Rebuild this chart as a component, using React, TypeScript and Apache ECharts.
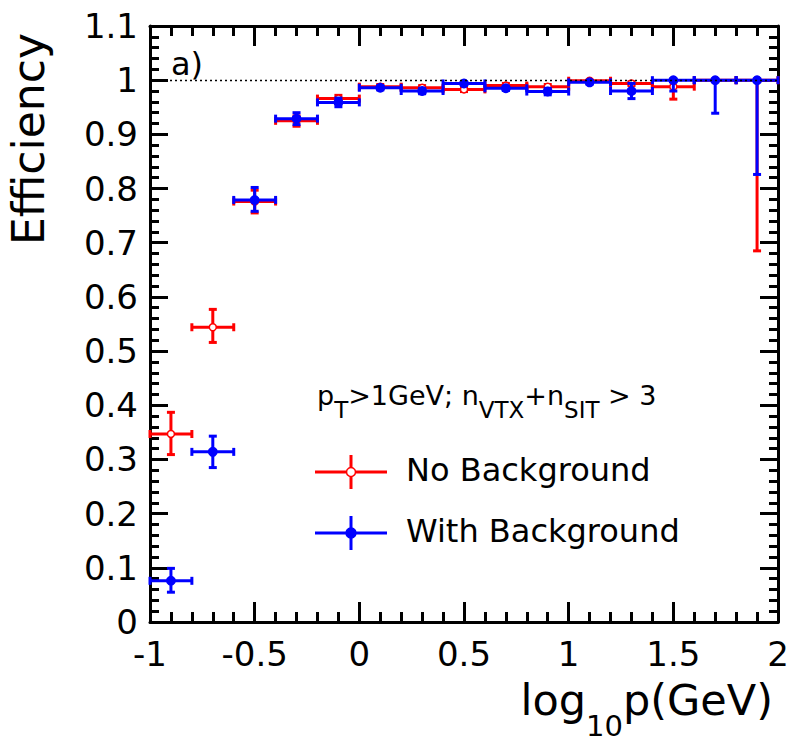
import React, { useEffect, useRef } from "react";
import * as echarts from "echarts";

// ---- data ----
const binCenters = [-0.9, -0.7, -0.5, -0.3, -0.1, 0.1, 0.3, 0.5, 0.7, 0.9, 1.1, 1.3, 1.5, 1.7, 1.9];
const binHalfWidth = 0.1;

const effNoBkg = [0.347, 0.544, 0.776, 0.925, 0.966, 0.988, 0.986, 0.983, 0.990, 0.988, 0.999, 0.994, 0.988, 1.0, 1.0];
const effNoBkgLow = [0.309, 0.516, 0.755, 0.915, 0.960, 0.984, 0.982, 0.979, 0.986, 0.984, 0.996, 0.990, 0.965, 1.0, 0.685];
const effNoBkgHigh = [0.387, 0.577, 0.797, 0.934, 0.972, 0.992, 0.990, 0.987, 0.994, 0.992, 1.0, 0.997, 0.998, 1.0, 1.0];

const effWithBkg = [0.076, 0.314, 0.779, 0.929, 0.959, 0.986, 0.980, 0.994, 0.985, 0.979, 0.996, 0.980, 1.0, 1.0, 1.0];
const effWithBkgLow = [0.055, 0.285, 0.758, 0.918, 0.951, 0.982, 0.975, 0.991, 0.981, 0.973, 0.993, 0.966, 0.980, 0.939, 0.826];
const effWithBkgHigh = [0.099, 0.343, 0.802, 0.940, 0.967, 0.990, 0.985, 0.997, 0.989, 0.985, 0.999, 0.994, 1.0, 1.0, 1.0];

const xRange = [-1, 2];
const xStep = 0.5;
const yRange = [0, 1.1];
const yStep = 0.1;
const referenceLevel = 1;

const seriesNames = ["No Background", "With Background"];
// text pieces: [text, isSubscript]
const cutPieces: [string, boolean][] = [
  ["p", false], ["T", true], [">1GeV; n", false], ["VTX", true], ["+n", false], ["SIT", true], [" > 3", false],
];
const xTitlePieces: [string, boolean][] = [["log", false], ["10", true], ["p(GeV)", false]];
const yTitle = "Efficiency";
const panelLabel = "a)";

const FONT = "DejaVu Sans";
const RED = "#ff0000";
const BLUE = "#0000ff";

function textWidth(t: string, size: number) {
  const c = document.createElement("canvas").getContext("2d");
  if (!c) return t.length * size * 0.6;
  c.font = `${size}px "${FONT}"`;
  return c.measureText(t).width;
}

function scriptLine(
  pieces: [string, boolean][],
  anchorX: number,
  baseline: number,
  mainSize: number,
  subSize: number,
  subDrop: number,
  align: "left" | "right"
) {
  const widths = pieces.map(([t, s]) => textWidth(t, s ? subSize : mainSize));
  const total = widths.reduce((a, b) => a + b, 0);
  let x = align === "left" ? anchorX : anchorX - total;
  return pieces.map(([t, s], i) => {
    const size = s ? subSize : mainSize;
    const base = baseline + (s ? subDrop : 0);
    const el = {
      type: "text",
      x,
      y: base - 0.346 * size,
      style: { text: t, fill: "#000", font: `${size}px "${FONT}"`, textAlign: "left", textVerticalAlign: "middle" },
    };
    x += widths[i];
    return el;
  });
}

function errorSeries(name: string, color: string, eff: number[], lo: number[], hi: number[], open: boolean, z: number) {
  const data = binCenters.map((x, i) => [x, eff[i], lo[i], hi[i]]);
  return {
    type: "custom",
    name,
    z,
    data,
    encode: { x: 0, y: 1 },
    renderItem: (params: any, api: any) => {
      const x = api.value(0);
      const y = api.value(1);
      const l = api.value(2);
      const h = api.value(3);
      const pL = api.coord([x - binHalfWidth, y]);
      const pR = api.coord([x + binHalfWidth, y]);
      const pC = api.coord([x, y]);
      const pLo = api.coord([x, l]);
      const pHi = api.coord([x, h]);
      const cap = 4;
      const ls = { stroke: color, lineWidth: 3 };
      const children: any[] = [
        { type: "line", shape: { x1: pL[0], y1: pL[1], x2: pR[0], y2: pR[1] }, style: ls },
        { type: "line", shape: { x1: pLo[0], y1: pLo[1], x2: pHi[0], y2: pHi[1] }, style: ls },
        { type: "line", shape: { x1: pL[0], y1: pL[1] - cap, x2: pL[0], y2: pL[1] + cap }, style: ls },
        { type: "line", shape: { x1: pR[0], y1: pR[1] - cap, x2: pR[0], y2: pR[1] + cap }, style: ls },
        { type: "line", shape: { x1: pLo[0] - cap, y1: pLo[1], x2: pLo[0] + cap, y2: pLo[1] }, style: ls },
        { type: "line", shape: { x1: pHi[0] - cap, y1: pHi[1], x2: pHi[0] + cap, y2: pHi[1] }, style: ls },
        {
          type: "circle",
          shape: { cx: pC[0], cy: pC[1], r: open ? 3.5 : 4.2 },
          style: { fill: open ? "#ffffff" : color, stroke: color, lineWidth: 1.5 },
        },
      ];
      return { type: "group", children };
    },
  };
}

export default function App() {
  const ref = useRef<HTMLDivElement>(null);
  useEffect(() => {
    if (!ref.current) return;
    const chart = echarts.init(ref.current, null, { renderer: "svg" });

    const axisLine = { show: true, onZero: false, lineStyle: { color: "#000", width: 3 } };
    const tickStyle = { color: "#000", width: 3 };

    const legendItems = [
      { name: seriesNames[0], color: RED, open: true, y: 472 },
      { name: seriesNames[1], color: BLUE, open: false, y: 533 },
    ];
    const legendGraphics: any[] = [];
    legendItems.forEach((it) => {
      legendGraphics.push(
        { type: "line", shape: { x1: 315, y1: it.y, x2: 387, y2: it.y }, style: { stroke: it.color, lineWidth: 3 } },
        { type: "line", shape: { x1: 351, y1: it.y - 17, x2: 351, y2: it.y + 17 }, style: { stroke: it.color, lineWidth: 3 } },
        {
          type: "circle",
          shape: { cx: 351, cy: it.y, r: it.open ? 4.5 : 5 },
          style: { fill: it.open ? "#fff" : it.color, stroke: it.color, lineWidth: 1.5 },
        },
        {
          type: "text",
          x: 406,
          y: it.y - 2,
          style: { text: it.name, fill: "#000", font: `32px "${FONT}"`, textAlign: "left", textVerticalAlign: "middle" },
        }
      );
    });

    const xTitleGraphics = scriptLine(xTitlePieces, 773, 715, 43, 29, 21, "right");
    const cutGraphics = scriptLine(cutPieces, 317, 405, 27, 23, 13, "left");

    chart.setOption({
      animation: false,
      backgroundColor: "#ffffff",
      textStyle: { fontFamily: FONT },
      grid: { left: 150, top: 26, right: 10, bottom: 121, containLabel: false, outerBoundsMode: "none" },
      xAxis: [
        {
          type: "value",
          position: "bottom",
          min: xRange[0],
          max: xRange[1],
          interval: xStep,
          axisLine,
          axisTick: { show: true, inside: true, length: 20, lineStyle: tickStyle },
          minorTick: { show: true, splitNumber: 5, length: 10, lineStyle: tickStyle },
          splitLine: { show: false },
          axisLabel: { fontSize: 34, fontFamily: FONT, color: "#000", margin: 15, showMinLabel: true, showMaxLabel: true },
        },
        {
          type: "value",
          position: "top",
          min: xRange[0],
          max: xRange[1],
          interval: xStep,
          axisLine,
          axisTick: { show: true, inside: true, length: 20, lineStyle: tickStyle },
          minorTick: { show: true, splitNumber: 5, length: 10, lineStyle: tickStyle },
          splitLine: { show: false },
          axisLabel: { show: false },
        },
      ],
      yAxis: [
        {
          type: "value",
          position: "left",
          min: yRange[0],
          max: yRange[1],
          interval: yStep,
          name: yTitle,
          nameLocation: "end",
          nameGap: -219,
          nameRotate: 90,
          nameMoveOverlap: false,
          nameTextStyle: {
            fontSize: 44,
            fontFamily: FONT,
            color: "#000",
            align: "left",
            verticalAlign: "bottom",
            padding: [0, 0, 100, 0],
          },
          axisLine,
          axisTick: { show: true, inside: true, length: 18, lineStyle: tickStyle },
          minorTick: { show: true, splitNumber: 5, length: 9, lineStyle: tickStyle },
          splitLine: { show: false },
          axisLabel: { fontSize: 34, fontFamily: FONT, color: "#000", margin: 12, showMinLabel: true, showMaxLabel: true },
        },
        {
          type: "value",
          position: "right",
          min: yRange[0],
          max: yRange[1],
          interval: yStep,
          axisLine,
          axisTick: { show: true, inside: true, length: 18, lineStyle: tickStyle },
          minorTick: { show: true, splitNumber: 5, length: 9, lineStyle: tickStyle },
          splitLine: { show: false },
          axisLabel: { show: false },
        },
      ],
      series: [
        {
          type: "line",
          name: "reference",
          data: [],
          silent: true,
          markLine: {
            silent: true,
            symbol: "none",
            label: { show: false },
            lineStyle: { color: "#000", type: [2, 3], width: 1.4 },
            data: [{ yAxis: referenceLevel }],
          },
        },
        errorSeries(seriesNames[0], RED, effNoBkg, effNoBkgLow, effNoBkgHigh, true, 3),
        errorSeries(seriesNames[1], BLUE, effWithBkg, effWithBkgLow, effWithBkgHigh, false, 4),
      ],
      graphic: [
        {
          type: "text",
          x: 171,
          y: 64,
          style: { text: panelLabel, fill: "#000", font: `32px "${FONT}"`, textAlign: "left", textVerticalAlign: "middle" },
        },
        ...cutGraphics,
        ...xTitleGraphics,
        ...legendGraphics,
      ],
    });
    return () => chart.dispose();
  }, []);
  return (
    <div
      ref={ref}
      style={{ position: "fixed", left: 0, top: 0, width: 788, height: 743, background: "#fff" }}
    />
  );
}
